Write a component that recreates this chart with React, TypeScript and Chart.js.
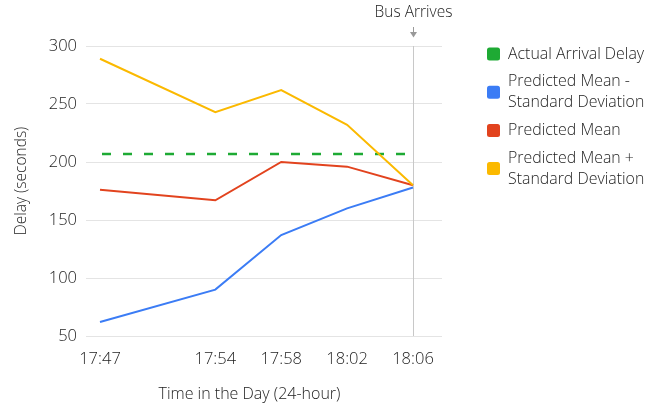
import React, { useEffect, useRef } from "react";
import { Chart, registerables } from "chart.js";

Chart.register(...registerables);

const timeLabels = ["17:47", "17:54", "17:58", "18:02", "18:06"];
const actualArrivalDelay = [207, 207, 207, 207, 207];
const meanMinusSd = [62, 90, 137, 160, 178];
const predictedMean = [176, 167, 200, 196, 180];
const meanPlusSd = [289, 243, 262, 232, 180];
const busArrivalLabel = "18:06";
const seriesNames = [
  ["Actual Arrival Delay"],
  ["Predicted Mean -", "Standard Deviation"],
  ["Predicted Mean"],
  ["Predicted Mean +", "Standard Deviation"],
];
const seriesColors = ["#1eaa34", "#3b7cf5", "#e2431e", "#fbb900"];
const yTicks = [50, 100, 150, 200, 250, 300];

const toMinutes = (t: string) => {
  const [h, m] = t.split(":").map(Number);
  return h * 60 + m;
};
const fmt = (v: number) => {
  const h = Math.floor(v / 60);
  const m = Math.round(v - h * 60);
  return `${h}:${m < 10 ? "0" + m : m}`;
};

const times = timeLabels.map(toMinutes);
const FONT = "'Open Sans', sans-serif";
const WEIGHT = "300";
const TEXT = "#1c1c1c";

const legendPlugin = {
  id: "customLegend",
  afterDraw(chart: any) {
    const ctx = chart.ctx;
    ctx.save();
    ctx.font = `${WEIGHT} 15.9px ${FONT}`;
    ctx.textBaseline = "middle";
    ctx.textAlign = "left";
    let y = 54;
    seriesNames.forEach((lines, i) => {
      const lh = 21;
      const mid = y + ((lines.length - 1) * lh) / 2;
      ctx.fillStyle = seriesColors[i];
      ctx.beginPath();
      (ctx as any).roundRect(487, mid - 6.5, 13, 13, 2.5);
      ctx.fill();
      ctx.fillStyle = TEXT;
      lines.forEach((l, j) => ctx.fillText(l, 508, y + j * lh));
      y += (lines.length - 1) * lh + 27.7;
    });
    ctx.restore();
  },
};

const busPlugin = {
  id: "busArrives",
  beforeDatasetsDraw(chart: any) {
    const { ctx, chartArea, scales } = chart;
    const x = Math.round(scales.x.getPixelForValue(toMinutes(busArrivalLabel))) + 0.5;
    ctx.save();
    ctx.strokeStyle = "#c8c8c8";
    ctx.lineWidth = 1;
    ctx.beginPath();
    ctx.moveTo(x, chartArea.top);
    ctx.lineTo(x, chartArea.bottom);
    ctx.stroke();
    ctx.strokeStyle = "#999";
    ctx.beginPath();
    ctx.moveTo(x, 27);
    ctx.lineTo(x, 33);
    ctx.stroke();
    ctx.fillStyle = "#999";
    ctx.beginPath();
    ctx.moveTo(x - 3.5, 32);
    ctx.lineTo(x + 3.5, 32);
    ctx.lineTo(x, 37.5);
    ctx.closePath();
    ctx.fill();
    ctx.fillStyle = TEXT;
    ctx.font = `${WEIGHT} 15.5px ${FONT}`;
    ctx.textAlign = "center";
    ctx.textBaseline = "middle";
    ctx.fillText("Bus Arrives", x, 13);
    ctx.restore();
  },
};

export default function App() {
  const ref = useRef<HTMLCanvasElement>(null);
  useEffect(() => {
    if (!ref.current) return;
    const mk = (vals: number[]) => times.map((t, i) => ({ x: t, y: vals[i] }));
    const chart = new Chart(ref.current, {
      type: "line",
      data: {
        datasets: [
          {
            label: seriesNames[0].join(" "),
            data: mk(actualArrivalDelay),
            borderColor: seriesColors[0],
            backgroundColor: seriesColors[0],
            borderWidth: 2.5,
            borderDash: [9, 12],
            borderDashOffset: -2,
            pointRadius: 0,
            order: 3,
          },
          {
            label: seriesNames[1].join(" "),
            data: mk(meanMinusSd),
            borderColor: seriesColors[1],
            backgroundColor: seriesColors[1],
            borderWidth: 2,
            pointRadius: 0,
            order: 2,
          },
          {
            label: seriesNames[2].join(" "),
            data: mk(predictedMean),
            borderColor: seriesColors[2],
            backgroundColor: seriesColors[2],
            borderWidth: 2,
            pointRadius: 0,
            order: 1,
          },
          {
            label: seriesNames[3].join(" "),
            data: mk(meanPlusSd),
            borderColor: seriesColors[3],
            backgroundColor: seriesColors[3],
            borderWidth: 2,
            pointRadius: 0,
            order: 0,
          },
        ],
      },
      options: {
        animation: false,
        responsive: true,
        maintainAspectRatio: false,
        layout: { padding: { top: 46, right: 222, bottom: 0, left: 0 } },
        plugins: { legend: { display: false }, tooltip: { enabled: false } },
        elements: { line: { tension: 0 } },
        scales: {
          x: {
            type: "linear",
            min: times[0] - 0.85,
            max: times[times.length - 1] + 1.76,
            afterBuildTicks: (s: any) => {
              s.ticks = times.map((v) => ({ value: v }));
            },
            afterFit: (s: any) => {
              s.height = 72;
            },
            ticks: {
              autoSkip: false,
              maxRotation: 0,
              padding: 5,
              color: TEXT,
              font: { family: FONT, size: 16.5, weight: WEIGHT as any },
              callback: (v: any) => fmt(Number(v)),
            },
            grid: { display: false },
            border: { display: false },
            title: {
              display: true,
              text: "Time in the Day (24-hour)" + "\u00a0".repeat(7),
              color: TEXT,
              font: { family: FONT, size: 16, weight: WEIGHT as any },
              padding: { top: 0, bottom: 4 },
            },
          },
          y: {
            min: yTicks[0],
            max: yTicks[yTicks.length - 1],
            afterBuildTicks: (s: any) => {
              s.ticks = yTicks.map((v) => ({ value: v }));
            },
            afterFit: (s: any) => {
              s.width = 86;
            },
            ticks: {
              padding: 9,
              color: TEXT,
              font: { family: FONT, size: 16.5, weight: WEIGHT as any },
            },
            grid: { color: "#e4e4e4", drawTicks: false, lineWidth: 1 },
            border: { display: false },
            title: {
              display: true,
              text: "\u00a0".repeat(5) + "Delay (seconds)",
              color: TEXT,
              font: { family: FONT, size: 15.5, weight: WEIGHT as any },
              padding: { top: 12, bottom: 0 },
            },
          },
        },
      },
      plugins: [busPlugin, legendPlugin],
    });
    return () => chart.destroy();
  }, []);
  return (
    <div style={{ position: "absolute", left: 0, top: 0, width: 664, height: 408 }}>
      <canvas ref={ref} />
    </div>
  );
}
